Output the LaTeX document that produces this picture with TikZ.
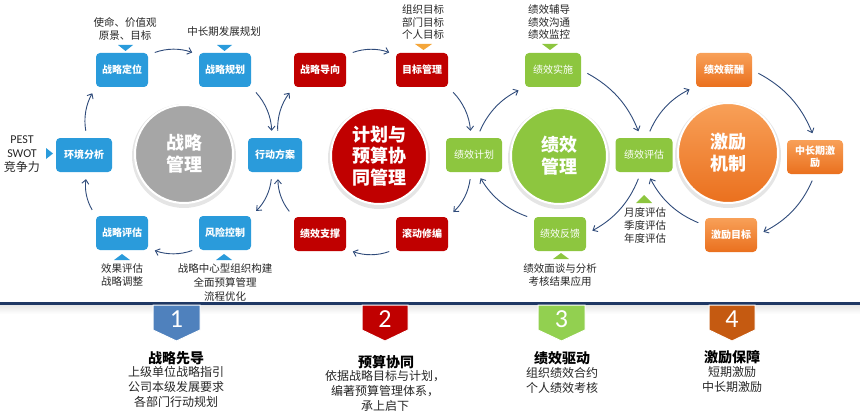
\documentclass[tikz,border=0pt]{standalone}
\usepackage{fontspec}
\setmainfont{Noto Sans CJK SC}
\newfontfamily\numfont{Carlito}
\usetikzlibrary{arrows.meta}

\definecolor{boxblue}{RGB}{42,155,219}
\definecolor{hubgray}{RGB}{166,166,166}
\definecolor{boxred}{RGB}{192,0,0}
\definecolor{boxgreen}{RGB}{141,198,63}
\definecolor{orangetop}{RGB}{248,160,88}
\definecolor{orangebot}{RGB}{234,112,30}
\definecolor{triorange}{RGB}{244,166,58}
\definecolor{arrowblue}{RGB}{47,75,122}
\definecolor{navy}{RGB}{31,56,100}
\definecolor{badgeblue}{RGB}{79,129,189}
\definecolor{badgegreen}{RGB}{146,208,80}
\definecolor{badgeorange}{RGB}{197,90,17}

\begin{document}
\begin{tikzpicture}[x=1pt, y=-1pt,
  box/.style={rounded corners=4pt, minimum width=52pt, minimum height=34pt, inner sep=1pt,
    align=center, text=white, font=\fontsize{10}{12}\selectfont\bfseries},
  bluebox/.style={box, fill=boxblue},
  redbox/.style={box, fill=boxred},
  greenbox/.style={box, fill=boxgreen, font=\fontsize{10}{12}\selectfont},
  orangebox/.style={box, top color=orangetop, bottom color=orangebot},
  hub/.style={circle, draw=white, line width=2pt, text=white, align=center,
    font=\fontsize{18}{22}\selectfont\bfseries},
  note/.style={align=center, inner sep=0pt, text=black!85, font=\fontsize{10.5}{13}\selectfont},
  head/.style={inner sep=0pt, text=black, font=\fontsize{14}{16}\selectfont\bfseries},
  body/.style={align=center, inner sep=0pt, text=black!85, font=\fontsize{12}{15}\selectfont},
  num/.style={inner sep=0pt, text=white, font=\numfont\fontsize{26}{26}\selectfont},
  flow/.style={-{Straight Barb[length=4pt,width=7pt]}, draw=arrowblue, line width=0.9pt,
    shorten >=7pt, shorten <=7pt, bend left=20}]
\useasboundingbox (0,0) rectangle (860,420);

% shadows behind the four hubs
\fill[black!10] (184,156) circle (52);
\fill[black!10] (379,158) circle (51);
\fill[black!10] (559,158) circle (51);
\fill[black!10] (728,155) circle (53);

% strategy cycle
\node[hub, fill=hubgray, minimum size=98pt] (zlgl) at (184,154) {战略\\管理};
\node[bluebox] (zldw) at (122,70) {战略定位};
\node[bluebox] (zlgh) at (225,70) {战略规划};
\node[bluebox, minimum width=54pt] (xdfa) at (275,155) {行动方案};
\node[bluebox, minimum width=56pt] (hjfx) at (84,155) {环境分析};
\node[bluebox] (zlpg) at (122,233) {战略评估};
\node[bluebox] (fxkz) at (225,233) {风险控制};

\node[note] (smyj) at (125,28.5) {使命、价值观\\原景、目标};
\node[note] (cqgh) at (224,32) {中长期发展规划};
\node[note, font=\fontsize{12}{14}\selectfont] (pest) at (22,154) {{\numfont PEST}\\{\numfont SWOT}\\竞争力};
\node[note] (xgpg) at (122,275) {效果评估\\战略调整};
\node[note, font=\fontsize{10.5}{14}\selectfont] (zxjg) at (225,282) {战略中心型组织构建\\全面预算管理\\流程优化};

% plan and budget cycle
\node[hub, fill=boxred, minimum size=96pt, font=\fontsize{18}{21.5}\selectfont\bfseries] (jhys) at (379,156) {计划与\\预算协\\同管理};
\node[redbox] (zldx) at (320,70) {战略导向};
\node[redbox] (mbgl) at (422,70) {目标管理};
\node[redbox] (gdxb) at (422,234) {滚动修编};
\node[redbox] (jxzc) at (320,234) {绩效支撑};
\node[note, font=\fontsize{10.5}{12.5}\selectfont] (zzmb) at (423,22.5) {组织目标\\部门目标\\个人目标};

% performance cycle
\node[hub, fill=boxgreen, minimum size=96pt] (jxgl) at (559,156) {绩效\\管理};
\node[greenbox, minimum width=56pt] (jxjh) at (474,155) {绩效计划};
\node[greenbox, minimum width=56pt] (jxss) at (553,70) {绩效实施};
\node[greenbox, minimum width=57pt] (jxpg) at (644,155) {绩效评估};
\node[greenbox] (jxfk) at (560,234) {绩效反馈};
\node[note, font=\fontsize{10.5}{12.5}\selectfont] (jxfd) at (549,22.5) {绩效辅导\\绩效沟通\\绩效监控};
\node[note] (ydpg) at (645,225) {月度评估\\季度评估\\年度评估};
\node[note] (jxmt) at (560,275) {绩效面谈与分析\\考核结果应用};

% incentive cycle
\node[hub, top color=orangetop, bottom color=orangebot, minimum size=100pt] (jljz) at (728,153) {激励\\机制};
\node[orangebox, minimum width=56pt] (jxxc) at (724,70) {绩效薪酬};
\node[orangebox, minimum width=56pt] (zcqjl) at (815,157) {中长期激\\励};
\node[orangebox] (jlmb) at (731,235) {激励目标};

% pointers
\fill[boxblue] (118,45) -- (133,45) -- (125.5,51) -- cycle;
\fill[boxblue] (217,45) -- (232,45) -- (224.5,51) -- cycle;
\fill[boxblue] (46,148) -- (53,153.5) -- (46,159) -- cycle;
\fill[boxblue] (114,260) -- (130,260) -- (122,254) -- cycle;
\fill[boxblue] (216,260) -- (232,260) -- (224,254) -- cycle;
\fill[triorange] (415,44) -- (432,44) -- (423.5,50) -- cycle;
\fill[boxgreen] (542,44) -- (558,44) -- (550,50) -- cycle;
\fill[boxgreen] (636,203) -- (652,203) -- (644,195) -- cycle;
\fill[boxgreen] (553,259) -- (569,259) -- (561,253) -- cycle;

% arrows
\draw[flow] (zldw.30) to (zlgh.150);
\draw[flow] (zlgh.south east) to (xdfa.100);
\draw[flow] (xdfa.260) to (fxkz.north east);
\draw[flow] (fxkz.210) to (zlpg.330);
\draw[flow] (zlpg.north west) to (hjfx.280);
\draw[flow] (hjfx.80) to (zldw.south west);
\draw[flow] (xdfa.80) to (zldx.south west);
\draw[flow] (jxzc.north west) to (xdfa.280);
\draw[flow] (zldx.30) to (mbgl.150);
\draw[flow] (mbgl.south east) to (jxjh.100);
\draw[flow] (jxjh.260) to (gdxb.north east);
\draw[flow] (gdxb.210) to (jxzc.330);
\draw[flow] (jxjh.80) to (jxss.south west);
\draw[flow] (jxfk.150) to (jxjh.280);
\draw[flow] (jxss.east) to (jxpg.100);
\draw[flow] (jxpg.260) to (jxfk.east);
\draw[flow] (jxpg.80) to (jxxc.210);
\draw[flow] (jlmb.160) to (jxpg.280);
\draw[flow] (jxxc.east) to (zcqjl.north);
\draw[flow] (zcqjl.south) to (jlmb.east);

% divider
\shade[top color=black!10, bottom color=white] (0,304.5) rectangle (860,314);
\fill[navy] (0,301.5) rectangle (860,304.5);

% badges
\filldraw[fill=badgeblue, draw=white, line width=1pt] (153,305) -- (200,305) -- (200,330) -- (176.5,341) -- (153,330) -- cycle;
\node[num] (n1) at (176.5,319) {1};
\filldraw[fill=boxred, draw=white, line width=1pt] (362,305) -- (408,305) -- (408,330) -- (385,341) -- (362,330) -- cycle;
\node[num] (n2) at (385,319) {2};
\filldraw[fill=badgegreen, draw=white, line width=1pt] (538,305) -- (585,305) -- (585,330) -- (561.5,341) -- (538,330) -- cycle;
\node[num] (n3) at (561.5,319) {3};
\filldraw[fill=badgeorange, draw=white, line width=1pt] (709,305) -- (755,305) -- (755,330) -- (732,341) -- (709,330) -- cycle;
\node[num] (n4) at (732,319) {4};

% bottom texts
\node[head] (zlxd) at (176,358) {战略先导};
\node[body] (zlxdt) at (176,387) {上级单位战略指引\\公司本级发展要求\\各部门行动规划};
\node[head] (ysxt) at (386,362) {预算协同};
\node[body] (ysxtt) at (385,391) {依据战略目标与计划，\\编著预算管理体系，\\承上启下};
\node[head] (jxqd) at (562,358) {绩效驱动};
\node[body] (jxqdt) at (562,380.5) {组织绩效合约\\个人绩效考核};
\node[head] (jlbz) at (732,357) {激励保障};
\node[body] (jlbzt) at (732,379.5) {短期激励\\中长期激励};
\end{tikzpicture}
\end{document}
